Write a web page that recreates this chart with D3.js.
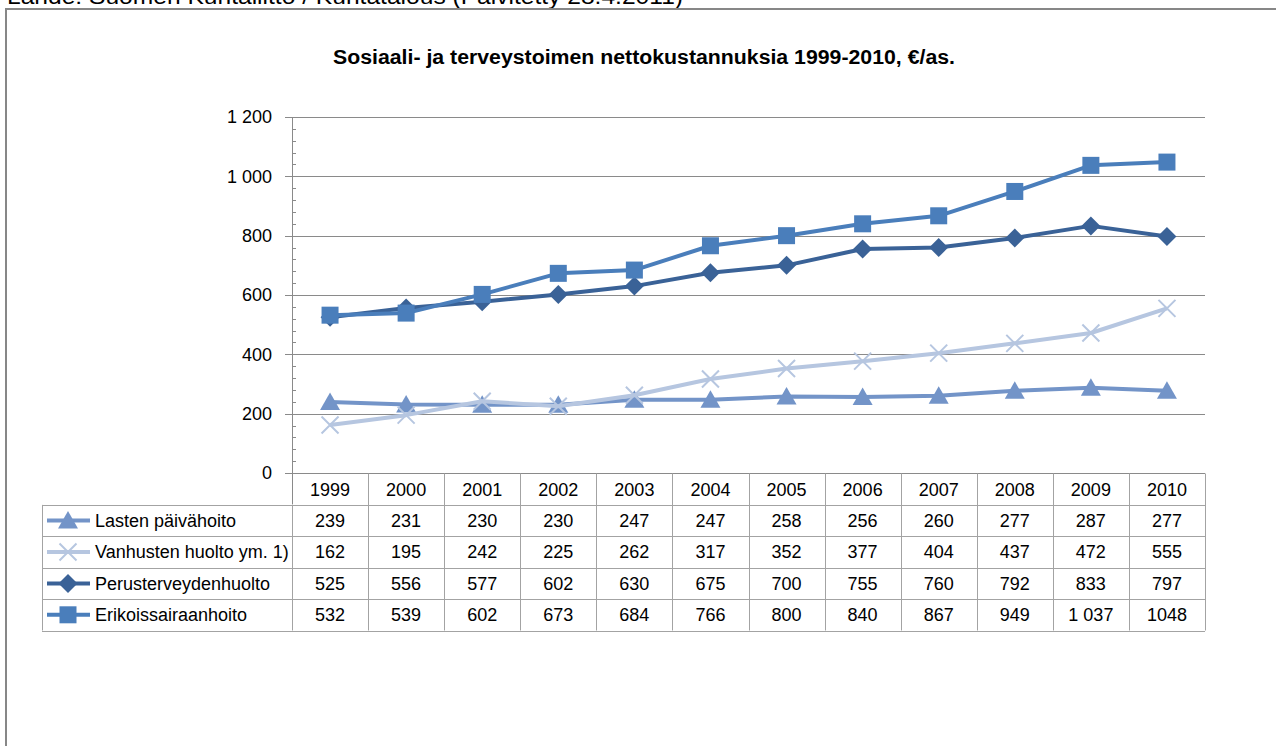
<!DOCTYPE html>
<html>
<head>
<meta charset="utf-8">
<script src="https://cdn.jsdelivr.net/npm/d3@7"></script>
<style>
  body { margin: 0; background: #fff; }
  svg { display: block; font-family: "Liberation Sans", Arial, sans-serif; }
</style>
</head>
<body>
<div id="chart"></div>
<script>
// Data
const years = ["1999", "2000", "2001", "2002", "2003", "2004", "2005", "2006", "2007", "2008", "2009", "2010"];
const lasten = [239, 231, 230, 230, 247, 247, 258, 256, 260, 277, 287, 277];
const vanhusten = [162, 195, 242, 225, 262, 317, 352, 377, 404, 437, 472, 555];
const perus = [525, 556, 577, 602, 630, 675, 700, 755, 760, 792, 833, 797];
const erikois = [532, 539, 602, 673, 684, 766, 800, 840, 867, 949, 1037, 1048];
const erikoisText = ["532", "539", "602", "673", "684", "766", "800", "840", "867", "949", "1 037", "1048"];
const yTicks = [0, 200, 400, 600, 800, 1000, 1200];

const series = [
  { name: "Lasten päivähoito", values: lasten, color: "#7394c8", marker: "triangle" },
  { name: "Vanhusten huolto ym. 1)", values: vanhusten, color: "#b6c6e0", marker: "cross" },
  { name: "Perusterveydenhuolto", values: perus, color: "#3a6297", marker: "diamond" },
  { name: "Erikoissairaanhoito", values: erikois, color: "#4a7ebb", marker: "square", text: erikoisText }
];

const width = 1276, height = 746;
const plot = { left: 292, right: 1205, top: 117, bottom: 473 };
const tableLeft = 42, rowH = 31.4;
const fontSize = "18px";

const fi = d3.formatLocale({ decimal: ",", thousands: " ", grouping: [3], currency: ["", ""] });
const fmt = fi.format(",");

const svg = d3.select("#chart").append("svg")
  .attr("width", width)
  .attr("height", height);

// source line, cut off at the top of the picture
svg.append("text")
  .attr("x", 7).attr("y", 4)
  .attr("textLength", 676)
  .attr("lengthAdjust", "spacingAndGlyphs")
  .style("font-size", "22px")
  .text("Lähde: Suomen Kuntaliitto / Kuntatalous (Päivitetty 28.4.2011)");

// chart frame
svg.append("rect")
  .attr("x", 6).attr("y", 9)
  .attr("width", 1400).attr("height", 900)
  .attr("fill", "none")
  .attr("stroke", "#878787")
  .attr("stroke-width", 2);

// title
svg.append("text")
  .attr("x", 644).attr("y", 64)
  .attr("text-anchor", "middle")
  .attr("textLength", 622)
  .attr("lengthAdjust", "spacingAndGlyphs")
  .style("font-size", "20px")
  .style("font-weight", "bold")
  .text("Sosiaali- ja terveystoimen nettokustannuksia 1999-2010, €/as.");

const x = d3.scaleBand().domain(years).range([plot.left, plot.right]);
const y = d3.scaleLinear().domain([0, 1200]).range([plot.bottom, plot.top]);

// gridlines
svg.append("g")
  .selectAll("line")
  .data(yTicks)
  .join("line")
  .attr("x1", plot.left - 7).attr("x2", plot.right)
  .attr("y1", d => Math.round(y(d)) + 0.5).attr("y2", d => Math.round(y(d)) + 0.5)
  .attr("stroke", "#8a8a8a");

// minor ticks
svg.append("g")
  .selectAll("line")
  .data(d3.range(0, 1200, 40).filter(v => v % 200 !== 0))
  .join("line")
  .attr("x1", plot.left).attr("x2", plot.left + 4)
  .attr("y1", d => Math.round(y(d)) + 0.5).attr("y2", d => Math.round(y(d)) + 0.5)
  .attr("stroke", "#8a8a8a");

// y axis line
svg.append("line")
  .attr("x1", plot.left + 0.5).attr("x2", plot.left + 0.5)
  .attr("y1", plot.top).attr("y2", plot.bottom + rowH)
  .attr("stroke", "#8a8a8a");

// y labels
svg.append("g")
  .selectAll("text")
  .data(yTicks)
  .join("text")
  .attr("x", 272)
  .attr("y", d => y(d))
  .attr("dy", "0.36em")
  .attr("text-anchor", "end")
  .style("font-size", fontSize)
  .text(d => fmt(d));

// data table
const table = svg.append("g");
const headTop = plot.bottom + 0.5;
const bodyTop = headTop + rowH;
const bodyBottom = bodyTop + rowH * series.length;
const lineColor = "#a3a3a3";

// horizontal lines
table.selectAll("line.h")
  .data(d3.range(series.length + 1))
  .join("line")
  .attr("class", "h")
  .attr("x1", tableLeft).attr("x2", plot.right)
  .attr("y1", i => Math.round(bodyTop + i * rowH) + 0.5)
  .attr("y2", i => Math.round(bodyTop + i * rowH) + 0.5)
  .attr("stroke", lineColor);

// vertical lines between years
table.selectAll("line.v")
  .data(years.slice(1).concat(["end"]))
  .join("line")
  .attr("class", "v")
  .attr("x1", d => Math.round(d === "end" ? plot.right : x(d)) + 0.5)
  .attr("x2", d => Math.round(d === "end" ? plot.right : x(d)) + 0.5)
  .attr("y1", headTop).attr("y2", bodyBottom)
  .attr("stroke", lineColor);

table.append("line")
  .attr("x1", tableLeft + 0.5).attr("x2", tableLeft + 0.5)
  .attr("y1", bodyTop).attr("y2", bodyBottom)
  .attr("stroke", lineColor);
table.append("line")
  .attr("x1", plot.left + 0.5).attr("x2", plot.left + 0.5)
  .attr("y1", bodyTop).attr("y2", bodyBottom)
  .attr("stroke", lineColor);

// year header
table.selectAll("text.year")
  .data(years)
  .join("text")
  .attr("class", "year")
  .attr("x", d => x(d) + x.bandwidth() / 2)
  .attr("y", headTop + rowH / 2)
  .attr("dy", "0.36em")
  .attr("text-anchor", "middle")
  .style("font-size", fontSize)
  .text(d => d);

// markers
function drawMarker(g, type, color) {
  if (type === "square") {
    g.append("rect").attr("x", -8.5).attr("y", -8.5).attr("width", 17).attr("height", 17).attr("fill", color);
  } else if (type === "diamond") {
    g.append("path").attr("d", "M0,-9.5L9.5,0L0,9.5L-9.5,0Z").attr("fill", color);
  } else if (type === "triangle") {
    g.append("path").attr("d", "M0,-9.5L10,8L-10,8Z").attr("fill", color);
  } else {
    g.append("path").attr("d", "M-8.5,-8.5L8.5,8.5M-8.5,8.5L8.5,-8.5")
      .attr("stroke", color).attr("stroke-width", 2).attr("fill", "none");
  }
}

const rows = table.selectAll("g.row")
  .data(series)
  .join("g")
  .attr("class", "row")
  .attr("transform", (d, i) => `translate(0,${bodyTop + i * rowH + rowH / 2})`);

rows.append("line")
  .attr("x1", 47).attr("x2", 90)
  .attr("stroke", d => d.color)
  .attr("stroke-width", 4);

rows.each(function(d) {
  const g = d3.select(this).append("g").attr("transform", "translate(68,0)");
  drawMarker(g, d.marker, d.color);
});

rows.append("text")
  .attr("x", 95)
  .attr("dy", "0.36em")
  .style("font-size", fontSize)
  .text(d => d.name);

rows.selectAll("text.val")
  .data(d => d.values.map((v, i) => ({ year: years[i], label: d.text ? d.text[i] : fmt(v) })))
  .join("text")
  .attr("class", "val")
  .attr("x", d => x(d.year) + x.bandwidth() / 2)
  .attr("dy", "0.36em")
  .attr("text-anchor", "middle")
  .style("font-size", fontSize)
  .text(d => d.label);

// lines
const line = d3.line()
  .x((v, i) => x(years[i]) + x.bandwidth() / 2)
  .y(v => y(v));

const lines = svg.append("g");
series.forEach(s => {
  lines.append("path")
    .attr("d", line(s.values))
    .attr("fill", "none")
    .attr("stroke", s.color)
    .attr("stroke-width", 4)
    .attr("stroke-linejoin", "round");
  s.values.forEach((v, i) => {
    const g = lines.append("g")
      .attr("transform", `translate(${x(years[i]) + x.bandwidth() / 2},${y(v)})`);
    drawMarker(g, s.marker, s.color);
  });
});
</script>
</body>
</html>
